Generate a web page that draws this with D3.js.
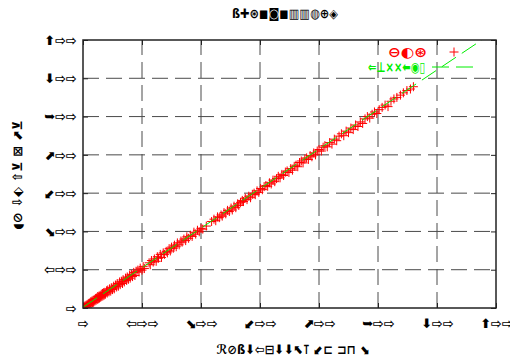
<!DOCTYPE html>
<html>
<head>
<meta charset="utf-8">
<script src="https://cdn.jsdelivr.net/npm/d3@7/dist/d3.min.js"></script>
<style>
  html, body { margin: 0; padding: 0; background: #fff; }
  svg { display: block; }
  text { font-family: "DejaVu Sans", sans-serif; }
</style>
</head>
<body>
<svg id="chart" width="510" height="360"></svg>
<script>
// Observed values (x) against modelled values (y)
const obsX = [1,2,3,4,5,6,7,8,9,10,11,12,13,14,15,16,17,18,19,20,21,22,23,24,25,26,27,28,29,30,
  31,32,33,34,35,36,37,38,40,41,42,44,45,47,48,50,52,53,55,57,58,60,62,63,65,67,68,70,72,74,
  75,77,79,80,82,84,86,88,90,93,95,97,100,102,104,112,114,116,119,121,124,126,128,131,133,136,138,141,143,146,
  148,150,153,155,158,160,163,166,168,171,174,176,179,182,185,188,191,194,197,200,203,209,218,222,225,228,231,234,236,239,
  242,245,248,251,253,256,259,262,264,267,270,272,275,278,281,284,287,290,292,295,298,301,304,307,310,313,316,319,322,325,
  328,331,334,337,340,343,346,349,352,355,358,361,364,367,370,373,376,379,382,385,388,391,394,397,400,404,407,410,414,418,
  422,426,430,434,438,442,446,450,454,458,462,466,470,474,478,482,486,490,494,498,502,507,512,517,522,527,532,538,543,549,
  555,560];
const obsY = [3,0,5,2,7,4,9,6,12,8,13,10,16,12,18,14,20,15,22,18,25,20,26,22,30,24,31,26,33,28,
  36,30,38,32,40,34,41,36,45,39,47,42,50,44,53,48,57,50,60,55,64,57,68,61,70,64,74,68,78,72,
  81,75,86,78,88,82,93,85,96,99,94,104,99,108,103,118,113,124,120,128,122,134,130,140,132,144,140,148,144,155,
  149,159,156,164,160,170,165,175,172,180,176,186,182,190,187,198,193,203,199,208,206,214,226,232,228,238,236,243,240,249,
  246,255,252,261,256,266,262,272,268,276,281,278,287,283,292,288,297,300,296,306,302,312,309,317,320,318,327,324,334,330,
  338,344,340,349,346,355,358,354,364,360,370,373,369,380,384,379,389,392,388,398,395,405,400,410,414,410,420,424,421,432,
  428,441,437,449,455,450,462,458,470,466,478,474,486,482,494,500,496,506,512,508,518,524,530,526,540,546,550,556,562,568,
  572,578];

// Straight-line fit drawn across the full x range (clipped to the frame)
const fitX = [0, 700];
const fitY = [2, 725];

// Axis ticks
const xTicks = [0, 100, 200, 300, 400, 500, 600, 700];
const yTicks = [0, 100, 200, 300, 400, 500, 600, 700];

// Symbol face used for every label on this chart
const digitGlyph = { "0": "\u21E8", "1": "\u21E6", "2": "\u2B0A", "3": "\u2B0B", "4": "\u2B08",
                     "5": "\u27A5", "6": "\u2B07", "7": "\u2B06" };
const glyphs = v => String(v).split("").map(c => digitGlyph[c] || c).join("");

const titleText = "\u00DF\u271A\u229B\u25FC\u25D9\u25FC\u25A5\u25A5\u25CD\u2295\u25C8";
const xLabelText = "\u211B\u2298\u00DF\u2B07\u21E6\u229F\u2B07\u2B07\u2B09\u22BA \u2B0B\u228F \u2290\u2293 \u2B0A";
const yLabelText = "\u25D6\u2298 \u21E9\u2B16 \u21E7\u22BB \u22A0 \u2B08\u22BB";
const keyLabels = ["\u2296\u25D0\u229B", "\u21D0\u22A5\u00D7\u00D7\u2B05\u25C9\u25AF"];

(function draw() {
  const svg = d3.select("#chart");
  const pl = 83, pr = 496, pt = 40, pb = 308;

  const x = d3.scaleLinear().domain([0, 700]).range([pl, pr]);
  const y = d3.scaleLinear().domain([0, 700]).range([pb, pt]);

  svg.append("defs").append("clipPath").attr("id", "plotClip")
    .append("rect").attr("x", pl).attr("y", pt)
    .attr("width", pr - pl).attr("height", pb - pt);

  // Dashed grid
  const grid = svg.append("g").attr("stroke", "#4a4a4a").attr("stroke-width", 1)
    .attr("stroke-dasharray", "16,7").attr("fill", "none");
  xTicks.slice(1, -1).forEach(t => {
    grid.append("line").attr("x1", x(t)).attr("x2", x(t)).attr("y1", pb).attr("y2", pt);
  });
  yTicks.slice(1, -1).forEach(t => {
    grid.append("line").attr("x1", pl).attr("x2", pr).attr("y1", y(t)).attr("y2", y(t));
  });

  // Axes: labels outside, short ticks inside
  const xAxis = d3.axisBottom(x).tickValues(xTicks).tickFormat(glyphs).tickSizeInner(-5).tickSizeOuter(0).tickPadding(11);
  const yAxis = d3.axisLeft(y).tickValues(yTicks).tickFormat(glyphs).tickSizeInner(-5).tickSizeOuter(0).tickPadding(6);
  const gx = svg.append("g").attr("transform", `translate(0,${pb})`).call(xAxis);
  const gy = svg.append("g").attr("transform", `translate(${pl},0)`).call(yAxis);
  [gx, gy].forEach(g => {
    g.select(".domain").remove();
    g.selectAll(".tick line").attr("stroke", "#222");
    g.selectAll(".tick text").attr("font-family", "DejaVu Sans").attr("font-size", 13)
      .attr("font-weight", "bold").attr("fill", "#000");
  });
  // mirrored ticks on the top and right edges
  const gxTop = svg.append("g").attr("transform", `translate(0,${pt})`)
    .call(d3.axisTop(x).tickValues(xTicks).tickFormat("").tickSizeInner(-5).tickSizeOuter(0));
  const gyRight = svg.append("g").attr("transform", `translate(${pr},0)`)
    .call(d3.axisRight(y).tickValues(yTicks).tickFormat("").tickSizeInner(-5).tickSizeOuter(0));
  [gxTop, gyRight].forEach(g => { g.select(".domain").remove(); g.selectAll(".tick line").attr("stroke", "#222"); });

  // Scatter of "+" markers
  const plot = svg.append("g").attr("clip-path", "url(#plotClip)");
  const pts = obsX.map((v, i) => [v, obsY[i]]);
  plot.append("g").selectAll("path").data(pts).join("path")
    .attr("transform", d => `translate(${x(d[0])},${y(d[1])})`)
    .attr("d", "M-4.5,0H4.5M0,-4.5V4.5")
    .attr("stroke", "#ff0000").attr("stroke-width", 1).attr("fill", "none");

  // Fit line
  plot.append("path")
    .datum(fitX.map((v, i) => [v, fitY[i]]))
    .attr("d", d3.line().x(d => x(d[0])).y(d => y(d[1])))
    .attr("stroke", "#00ee00").attr("stroke-width", 1).attr("fill", "none")
    .attr("stroke-dasharray", "17,7");

  // Frame
  svg.append("rect").attr("x", pl).attr("y", pt)
    .attr("width", pr - pl).attr("height", pb - pt)
    .attr("fill", "none").attr("stroke", "#222").attr("stroke-width", 1.5);

  // Key
  const key = svg.append("g");
  key.append("text").attr("x", 427).attr("y", 57).attr("text-anchor", "end")
    .attr("font-size", 14).attr("font-weight", "bold").attr("fill", "#ff0000")
    .attr("textLength", 39).attr("lengthAdjust", "spacingAndGlyphs").text(keyLabels[0]);
  key.append("path").attr("transform", "translate(454,52)").attr("d", "M-4.5,0H4.5M0,-4.5V4.5")
    .attr("stroke", "#ff0000").attr("stroke-width", 1);
  key.append("text").attr("x", 425).attr("y", 72).attr("text-anchor", "end")
    .attr("font-size", 14).attr("font-weight", "bold").attr("fill", "#00ee00")
    .attr("textLength", 57).attr("lengthAdjust", "spacingAndGlyphs").text(keyLabels[1]);
  key.append("line").attr("x1", 432).attr("x2", 475).attr("y1", 67).attr("y2", 67)
    .attr("stroke", "#00ee00").attr("stroke-width", 1).attr("stroke-dasharray", "17,7");

  // Title and axis titles
  svg.append("text").attr("x", 285).attr("y", 18).attr("text-anchor", "middle")
    .attr("font-size", 13).attr("font-weight", "bold")
    .attr("textLength", 106).attr("lengthAdjust", "spacingAndGlyphs").text(titleText);
  svg.append("text").attr("x", 293).attr("y", 354).attr("text-anchor", "middle")
    .attr("font-size", 13).attr("font-weight", "bold")
    .attr("textLength", 153).attr("lengthAdjust", "spacingAndGlyphs").text(xLabelText);
  svg.append("text").attr("transform", "translate(22,175) rotate(-90)").attr("text-anchor", "middle")
    .attr("font-size", 13).attr("font-weight", "bold")
    .attr("textLength", 110).attr("lengthAdjust", "spacingAndGlyphs").text(yLabelText);
})();
</script>
</body>
</html>
